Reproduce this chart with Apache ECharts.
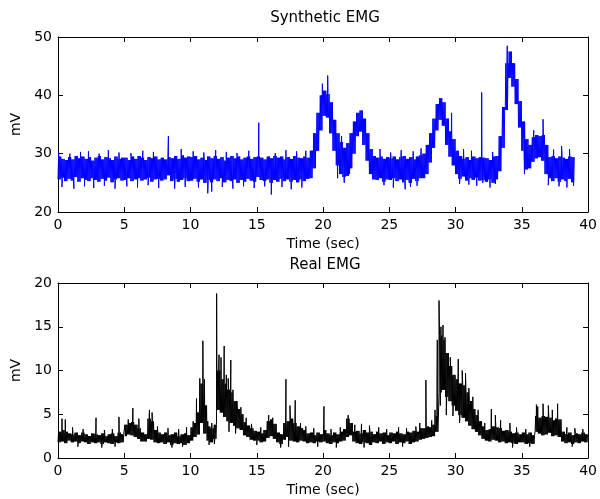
<!DOCTYPE html>
<html><head><meta charset="utf-8">
<script src="https://cdn.jsdelivr.net/npm/echarts@6/dist/echarts.min.js"></script>
<style>html,body{margin:0;padding:0;background:#fff}#c{width:600px;height:499px}</style>
</head><body><div id="c"></div>
<script>
// Each 0.25 s bin holds the lower and upper edge of the dense noise band;
// isolated excursions (spikes up or down) are listed separately as time / value pairs.
const binSec = 0.25;
const xTicks = [0, 5, 10, 15, 20, 25, 30, 35, 40];
const synthTicks = [20, 30, 40, 50];
const realTicks = [0, 5, 10, 15, 20];

const synthHi = [
29.5,29.1,28.9,29.4,29.0,29.6,29.2,29.5,29.1,29.4,28.8,29.3,29.6,29.0,29.4,29.2,28.9,29.5,29.1,29.3,
29.3,28.9,29.5,29.1,29.6,29.3,28.9,29.4,29.2,29.5,29.0,29.3,29.0,29.4,29.2,29.6,29.1,29.7,29.3,29.5,
29.4,29.6,29.0,29.3,28.9,29.5,29.2,29.6,29.1,29.4,28.8,29.3,29.6,29.2,29.5,29.0,29.3,29.5,29.1,29.4,
29.5,29.3,29.0,29.5,29.2,29.6,29.3,29.5,29.0,29.4,29.1,29.6,29.3,29.2,29.5,29.3,30.5,33.5,37.0,40.0,
40.8,40.2,38.8,35.8,33.5,32.0,31.0,31.8,33.5,35.5,37.0,37.4,36.0,33.5,30.8,29.6,29.3,29.5,29.1,29.4,
29.2,29.5,29.0,29.4,29.6,29.1,29.4,29.0,29.5,29.7,30.0,31.5,33.5,36.0,38.5,39.5,38.8,36.0,33.8,32.5,
30.5,29.6,29.1,29.4,28.9,29.5,29.2,29.4,29.3,29.2,28.9,29.5,29.6,33.0,38.0,45.5,47.5,45.5,42.8,39.0,
35.5,32.5,31.5,32.8,33.2,33.0,33.2,31.5,29.4,29.6,29.2,29.5,29.3,29.1,29.5,29.4
];
const synthLo = [
25.6,25.9,25.3,25.7,25.4,26.0,25.2,25.8,25.5,25.3,25.8,25.5,25.2,25.7,25.4,25.9,25.1,25.6,25.8,25.4,
25.5,25.8,25.3,25.6,25.8,25.4,25.6,25.9,25.2,25.6,25.7,25.4,25.6,26.3,25.3,25.7,25.2,25.5,25.8,25.3,
25.4,25.7,25.2,25.6,25.0,25.5,25.1,25.6,25.3,25.8,25.1,25.5,25.3,25.6,25.0,25.5,25.2,25.7,25.4,25.2,
26.0,25.5,25.3,25.6,25.0,25.5,25.2,25.7,25.3,25.6,25.2,25.5,25.1,25.6,25.3,25.7,25.8,27.5,30.5,34.0,
36.5,36.2,33.5,30.5,28.0,26.5,26.0,26.2,27.5,30.0,33.0,33.8,31.5,28.8,26.5,25.6,25.5,25.8,25.2,25.6,
25.5,25.8,25.3,25.6,25.1,25.5,25.0,25.7,25.3,25.8,25.8,26.5,28.5,31.0,34.0,35.8,34.8,31.5,29.5,28.0,
26.5,25.7,26.1,25.4,25.8,25.5,25.9,25.4,25.5,25.2,25.6,25.0,25.6,27.0,31.0,37.5,43.0,41.5,38.5,34.5,
30.5,27.3,27.5,28.6,29.2,29.4,28.8,26.5,25.8,25.3,25.8,25.2,25.6,25.3,25.7,25.1
];
const synthSpikeT = [
0.05,0.9,1.7,2.3,3.1,3.8,4.6,5.5,6.4,7.2,8.33,9.3,10.2,11.0,11.9,12.7,13.5,14.4,15.15,16.4,17.2,18.0,18.7,
19.95,20.35,21.4,24.3,25.1,25.9,26.8,27.4,29.7,30.6,31.2,31.97,32.8,33.9,35.9,36.6,37.4,38.0,38.6,
0.3,1.2,2.0,2.7,3.5,4.3,5.2,6.0,6.8,7.6,8.8,9.6,10.6,11.3,11.6,12.4,13.2,14.0,14.8,15.6,16.1,16.9,17.6,18.4,
21.1,21.6,22.0,24.6,25.3,26.2,26.6,27.1,30.3,31.0,31.6,32.05,32.6,33.0,35.2,37.0,37.8,38.4,38.9
];
const synthSpikeV = [
30.2,30.0,30.3,30.4,30.0,30.6,30.2,30.1,30.5,30.3,33.0,30.8,30.4,30.2,30.6,30.3,30.1,30.5,35.3,30.1,30.6,30.4,30.5,
42.0,43.4,33.0,30.8,30.2,30.6,30.4,30.9,37.0,30.8,30.5,40.5,30.3,48.5,34.0,35.9,30.7,31.3,30.8,
24.3,24.0,24.4,24.1,24.5,24.0,24.4,24.2,24.6,24.1,24.0,24.3,24.2,23.2,23.5,24.3,24.0,24.4,24.1,24.4,23.0,24.3,23.9,24.2,
25.8,25.0,26.5,24.6,24.2,23.9,24.3,24.5,24.8,24.7,24.5,25.0,24.2,24.8,26.5,24.6,24.4,24.2,24.5
];

const realHi = [
3.0,3.2,3.0,2.8,2.7,2.9,2.6,2.9,2.7,2.5,2.8,2.7,2.6,2.8,2.5,2.7,2.8,2.5,2.9,2.7,
3.8,4.0,4.1,3.8,3.4,2.9,2.7,4.5,4.2,3.2,2.9,2.7,2.9,2.6,2.7,2.9,2.5,2.7,2.8,2.6,
3.5,4.0,5.2,8.5,6.0,3.6,3.4,3.8,10.0,9.0,8.5,7.8,7.5,6.5,5.6,5.0,4.1,3.7,3.4,3.1,
3.0,2.8,3.2,4.2,4.4,3.9,2.9,2.7,4.0,4.2,4.5,4.0,3.6,3.4,3.2,2.8,2.9,2.6,2.9,2.7,
3.2,2.8,2.6,2.9,2.7,3.0,3.3,4.5,4.0,3.0,3.1,2.8,3.2,2.9,3.0,2.7,3.0,2.8,2.9,2.6,
2.9,2.8,3.0,2.8,2.7,3.0,2.9,3.1,3.0,3.4,3.4,3.6,3.5,3.8,4.8,14.0,13.5,12.0,10.5,9.5,
9.0,8.5,8.3,7.5,6.5,5.6,4.9,4.2,3.6,3.2,3.3,3.6,3.5,3.4,3.1,3.2,3.0,2.8,2.9,2.7,
2.9,2.7,2.9,2.6,4.8,4.6,4.8,4.7,4.6,4.3,4.5,4.4,3.0,2.7,2.9,2.6,2.8,2.7,2.9,2.7
];
const realLo = [
1.8,1.9,1.7,2.0,1.8,1.9,1.7,1.9,1.8,1.6,1.8,1.7,1.8,1.6,1.8,1.7,1.6,1.8,1.7,1.8,
2.5,2.7,2.6,2.4,2.2,1.9,1.9,2.2,2.1,1.8,1.7,1.8,1.6,1.8,1.5,1.7,1.6,1.7,1.5,1.7,
2.0,2.4,2.7,4.0,2.8,2.0,1.8,2.2,5.5,5.2,4.7,4.2,4.0,3.7,3.4,3.2,2.6,2.4,2.1,2.0,
2.0,1.8,1.9,2.3,2.5,2.2,1.8,1.6,2.1,2.4,2.0,1.9,1.8,2.0,1.9,1.7,1.8,1.7,1.9,1.8,
1.9,1.7,1.6,1.8,1.7,1.9,2.0,2.4,2.6,1.9,1.7,1.6,1.8,1.7,1.5,1.8,1.7,1.9,1.6,1.8,
1.7,1.9,1.6,1.8,1.7,1.9,1.6,1.8,1.9,2.1,2.2,2.3,2.4,2.5,3.0,7.5,7.8,7.0,6.5,6.0,
5.4,4.9,4.6,4.2,3.7,3.3,3.0,2.6,2.2,2.0,1.9,2.1,2.0,1.8,1.9,1.7,1.8,1.7,1.6,1.8,
1.8,1.6,1.7,1.6,3.0,2.8,2.6,2.7,2.9,2.5,2.6,2.4,1.9,1.7,1.8,1.6,1.8,1.7,1.9,1.8
];
const realSpikeT = [
0.3,0.55,1.1,1.9,2.87,3.5,4.1,4.6,5.3,5.65,6.1,6.9,7.1,7.5,8.3,9.1,9.7,10.2,10.45,10.7,10.93,11.05,11.3,11.6,
11.97,12.15,12.3,12.54,12.7,12.84,13.04,13.2,13.5,13.8,14.2,14.6,15.3,15.9,16.2,17.2,17.5,17.9,18.3,18.7,19.3,
20.07,20.6,21.3,21.9,22.4,22.9,23.5,24.2,24.8,25.7,26.3,27.0,27.3,27.76,28.2,28.45,28.62,28.75,28.9,29.05,29.2,
29.4,29.6,30.2,30.5,30.75,31.0,31.3,31.7,32.2,32.7,33.0,33.4,34.1,34.6,35.3,36.1,36.2,36.6,37.0,37.3,37.7,38.4,39.0,39.6,
1.5,3.3,4.3,8.6,9.4,11.4,11.8,12.9,13.4,15.0,16.8,17.4,19.6,21.0,23.1,26.0,28.85,29.3,29.8,30.3,34.3,35.6,38.8
];
const realSpikeV = [
4.5,4.4,3.5,3.3,4.6,3.2,3.3,4.7,4.4,5.7,4.5,5.5,5.2,3.6,3.4,3.3,3.5,4.2,6.8,9.1,13.4,9.0,4.2,4.0,
18.8,11.8,11.5,12.8,9.5,9.1,11.2,7.8,6.5,5.8,4.6,3.9,3.5,4.9,4.6,9.0,6.0,6.6,4.0,3.6,3.4,
5.9,3.3,3.5,4.9,3.8,3.9,3.7,3.5,3.3,3.5,3.4,3.6,4.0,8.9,4.3,5.5,13.5,18.0,15.0,15.2,13.8,
12.2,11.5,11.3,10.0,9.7,8.0,7.0,5.5,4.0,5.6,4.9,4.3,4.0,3.5,3.3,6.1,5.9,6.2,6.0,5.5,6.2,3.5,3.4,3.3,
1.3,1.2,1.3,1.2,1.3,1.5,1.6,3.0,2.8,1.5,1.2,1.3,1.3,1.2,1.2,1.3,6.0,4.9,4.8,4.0,1.2,1.3,1.3
];

// dense band: three lo/hi passes across each bin, then the listed spikes merged in by time
function buildTrace(lo, hi, spikeT, spikeV) {
  const pts = [];
  for (let i = 0; i < lo.length; i++) {
    for (let k = 0; k < 6; k++) {
      pts.push([i * binSec + k * binSec / 6, k % 2 === 0 ? lo[i] : hi[i]]);
    }
  }
  for (let j = 0; j < spikeT.length; j++) pts.push([spikeT[j], spikeV[j]]);
  pts.sort((a, b) => a[0] - b[0]);
  return pts;
}

const FONT = 'DejaVu Sans';
const lineCol = '#000';
function xAxis(gi, pos, showLabel, gap) {
  return {
    type: 'value', gridIndex: gi, position: pos,
    min: xTicks[0], max: xTicks[xTicks.length - 1], interval: xTicks[1] - xTicks[0],
    axisLine: { show: true, onZero: false, lineStyle: { color: lineCol, width: 1 } },
    axisTick: { show: true, inside: true, length: 5, lineStyle: { color: lineCol } },
    axisLabel: { show: showLabel, color: '#000', fontFamily: FONT, fontSize: 14, margin: 6 },
    splitLine: { show: false },
    name: showLabel ? 'Time (sec)' : '', nameLocation: 'middle', nameGap: gap,
    nameTextStyle: { color: '#000', fontFamily: FONT, fontSize: 14 }
  };
}
function yAxis(gi, pos, ticks, showLabel) {
  return {
    type: 'value', gridIndex: gi, position: pos,
    min: ticks[0], max: ticks[ticks.length - 1], interval: ticks[1] - ticks[0],
    axisLine: { show: true, onZero: false, lineStyle: { color: lineCol, width: 1 } },
    axisTick: { show: true, inside: true, length: 5, lineStyle: { color: lineCol } },
    axisLabel: { show: showLabel, color: '#000', fontFamily: FONT, fontSize: 14, margin: 6 },
    splitLine: { show: false },
    name: showLabel ? 'mV' : '', nameLocation: 'middle', nameGap: 24, nameRotate: 90,
    nameTextStyle: { color: '#000', fontFamily: FONT, fontSize: 14 }
  };
}

const chart = echarts.init(document.getElementById('c'), null, { renderer: 'canvas' });
chart.setOption({
  animation: false,
  backgroundColor: '#fff',
  grid: [
    { left: 58, right: 4, top: 37, height: 175 },
    { left: 58, right: 4, top: 283, height: 175 }
  ],
  xAxis: [xAxis(0, 'bottom', true, 25), xAxis(0, 'top', false, 0), xAxis(1, 'bottom', true, 25), xAxis(1, 'top', false, 0)],
  yAxis: [yAxis(0, 'left', synthTicks, true), yAxis(0, 'right', synthTicks, false),
          yAxis(1, 'left', realTicks, true), yAxis(1, 'right', realTicks, false)],
  graphic: [
    { type: 'text', x: 325, y: 18, style: { text: 'Synthetic EMG', fill: '#000', font: '15px "DejaVu Sans"', textAlign: 'center', textVerticalAlign: 'middle' } },
    { type: 'text', x: 325, y: 265, style: { text: 'Real EMG', fill: '#000', font: '15px "DejaVu Sans"', textAlign: 'center', textVerticalAlign: 'middle' } }
  ],
  series: [
    { type: 'line', xAxisIndex: 0, yAxisIndex: 0, data: buildTrace(synthLo, synthHi, synthSpikeT, synthSpikeV),
      showSymbol: false, symbol: 'none', lineStyle: { color: '#0000ff', width: 1 }, clip: true },
    { type: 'line', xAxisIndex: 2, yAxisIndex: 2, data: buildTrace(realLo, realHi, realSpikeT, realSpikeV),
      showSymbol: false, symbol: 'none', lineStyle: { color: '#000', width: 1 }, clip: true }
  ]
});
</script>
</body></html>
